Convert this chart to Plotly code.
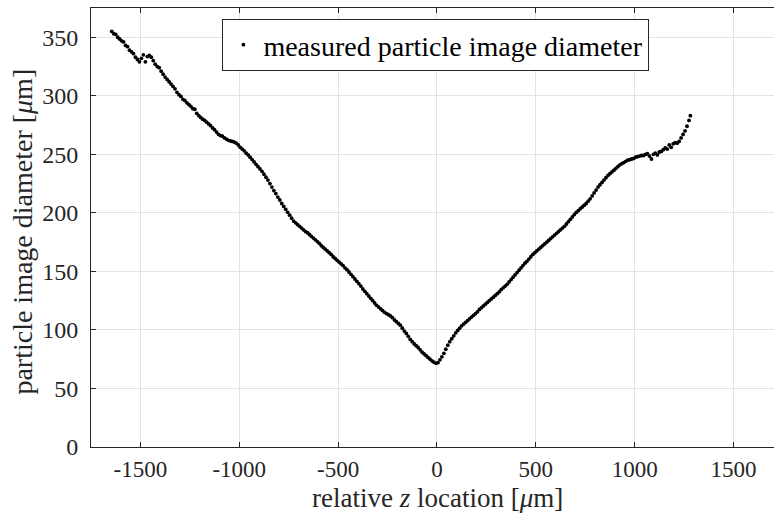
import plotly.graph_objects as go

# relative z location [um]
z_um = [
    -1645, -1635, -1625, -1615, -1605, -1595, -1585, -1575, -1565, -1555,
    -1545, -1535, -1525, -1515, -1505, -1495, -1485, -1475, -1465, -1455,
    -1445, -1435, -1425, -1415, -1405, -1395, -1385, -1375, -1365, -1355,
    -1345, -1335, -1325, -1315, -1305, -1295, -1285, -1275, -1265, -1255,
    -1245, -1235, -1225, -1215, -1205, -1195, -1185, -1175, -1165, -1155,
    -1145, -1135, -1125, -1115, -1105, -1095, -1085, -1075, -1065, -1055,
    -1045, -1035, -1025, -1015, -1005, -995, -985, -975, -965, -955,
    -945, -935, -925, -915, -905, -895, -885, -875, -865, -855,
    -845, -835, -825, -815, -805, -795, -785, -775, -765, -755,
    -745, -735, -725, -715, -705, -695, -685, -675, -665, -655,
    -645, -635, -625, -615, -605, -595, -585, -575, -565, -555,
    -545, -535, -525, -515, -505, -495, -485, -475, -465, -455,
    -445, -435, -425, -415, -405, -395, -385, -375, -365, -355,
    -345, -335, -325, -315, -305, -295, -285, -275, -265, -255,
    -245, -235, -225, -215, -205, -195, -185, -175, -165, -155,
    -145, -135, -125, -115, -105, -95, -85, -75, -65, -55,
    -45, -35, -25, -15, -5, 5, 15, 25, 35, 45,
    55, 65, 75, 85, 95, 105, 115, 125, 135, 145,
    155, 165, 175, 185, 195, 205, 215, 225, 235, 245,
    255, 265, 275, 285, 295, 305, 315, 325, 335, 345,
    355, 365, 375, 385, 395, 405, 415, 425, 435, 445,
    455, 465, 475, 485, 495, 505, 515, 525, 535, 545,
    555, 565, 575, 585, 595, 605, 615, 625, 635, 645,
    655, 665, 675, 685, 695, 705, 715, 725, 735, 745,
    755, 765, 775, 785, 795, 805, 815, 825, 835, 845,
    855, 865, 875, 885, 895, 905, 915, 925, 935, 945,
    955, 965, 975, 985, 995, 1005, 1015, 1025, 1035, 1045,
    1055, 1065, 1075, 1085, 1095, 1105, 1115, 1125, 1135, 1145,
    1155, 1165, 1175, 1185, 1195, 1205, 1215, 1225, 1235, 1245,
    1255, 1265, 1275, 1282,
]

# measured particle image diameter [um]
diameter_um = [
    355, 353, 352.5, 350, 348.5, 347, 346, 343, 342, 339,
    337.5, 336, 333, 331, 329, 332, 335, 329, 333.5, 334.5,
    333, 330, 327, 325, 324, 321, 318.5, 316, 314, 312,
    310, 308, 306, 303, 301, 299.5, 297, 296, 294, 292.5,
    291, 289, 288.5, 285, 283, 281.5, 280, 279, 277.5, 276,
    274.5, 272.5, 271, 269, 267, 266, 265.5, 264, 263, 262,
    261.5, 261, 260.5, 259.5, 258, 256, 254.5, 253, 251, 249.5,
    247.5, 245.5, 243.5, 241.5, 239.5, 237.5, 235.5, 233, 230.5, 228,
    225, 222, 219, 216.5, 213.5, 211, 208, 205.5, 203, 200.5,
    198, 195.5, 193, 191.5, 190, 188.5, 187, 185.5, 184, 183,
    181.5, 180, 178.5, 177, 175.5, 174, 172, 170.5, 169, 167.5,
    166, 164.5, 162.5, 161, 159.5, 158, 156.5, 155, 153, 151.5,
    149.5, 147.5, 145.5, 143.5, 141.5, 139.5, 137.5, 135, 133, 131,
    129, 127, 125, 123, 121, 119.5, 118, 116.5, 115, 114,
    113, 112, 110.5, 108.5, 107, 105.5, 104, 101.5, 99, 97,
    94.5, 92, 90, 88, 86.5, 85, 83, 81, 79.5, 78,
    76.5, 75, 73.5, 72.5, 71.5, 72, 74.5, 77, 80, 83.5,
    87, 90, 92.5, 95, 97.5, 99.5, 101.5, 103.5, 105, 106.5,
    108, 109.5, 111, 112.5, 114, 115.5, 117.5, 119, 120.5, 122,
    123.5, 125, 126.5, 128, 129.5, 131, 132.5, 134.5, 136, 137.5,
    139, 141, 143, 145, 147, 149, 151, 153, 155, 157,
    158.5, 160.5, 162.5, 164.5, 166, 167.5, 169, 170.5, 172, 173.5,
    175, 176.5, 178, 179.5, 181, 182.5, 184, 185.5, 187, 188.5,
    190.5, 192.5, 194.5, 196.5, 198.5, 200.5, 202, 203.5, 205, 206.5,
    208, 210, 212, 214.5, 217, 219.5, 222, 224, 226, 228,
    230, 232, 233.5, 235, 236.5, 238, 239.5, 241, 242, 243,
    244, 245, 245.5, 246, 246.5, 247.5, 248, 248.5, 249, 249,
    250, 250.5, 248.5, 246, 250, 251, 249.5, 252, 252.5, 254,
    255.5, 254.5, 258, 256, 259, 260, 259.5, 261, 264, 267,
    270, 274, 279, 283,
]

x_ticks = [-1500, -1000, -500, 0, 500, 1000, 1500]
y_ticks = [0, 50, 100, 150, 200, 250, 300, 350]

FONT = "Liberation Serif"
INK = "#262626"
GRID = "#e3e3e3"

fig = go.Figure()
fig.add_trace(go.Scatter(
    x=z_um, y=diameter_um, mode="markers",
    marker=dict(color="black", size=3.8, line=dict(width=0)),
    name="measured particle image diameter",
))

fig.update_layout(
    width=774, height=517,
    margin=dict(l=91, r=0, t=8, b=70),
    paper_bgcolor="white", plot_bgcolor="white",
    font=dict(family=FONT, color=INK),
    showlegend=True,
    legend=dict(
        x=0.505, y=0.975, xanchor="center", yanchor="top",
        bgcolor="white", bordercolor=INK, borderwidth=1,
        font=dict(family=FONT, size=28, color="black"),
        itemsizing="trace", itemwidth=30,
    ),
    xaxis=dict(
        range=[-1750, 1705], tickvals=x_ticks, ticktext=[str(v) for v in x_ticks],
        showgrid=True, gridcolor=GRID, gridwidth=1, zeroline=False,
        showline=True, linecolor=INK, linewidth=1, mirror="ticks",
        ticks="inside", ticklen=5, tickcolor=INK,
        tickfont=dict(family=FONT, size=23, color=INK),
        ticklabelstandoff=1,
    ),
    yaxis=dict(
        range=[0, 375], tickvals=y_ticks, ticktext=[str(v) for v in y_ticks],
        showgrid=True, gridcolor=GRID, gridwidth=1, zeroline=False,
        showline=True, linecolor=INK, linewidth=1, mirror=False,
        ticks="inside", ticklen=5, tickcolor=INK,
        tickfont=dict(family=FONT, size=24, color=INK),
        ticklabelstandoff=7,
    ),
    annotations=[
        dict(text="relative <i>z</i> location [<i>μ</i>m]", xref="paper", yref="paper",
             x=0.5066, y=-0.116, xanchor="center", yanchor="middle", showarrow=False,
             font=dict(family=FONT, size=27, color=INK)),
        dict(text="particle image diameter [<i>μ</i>m]", xref="paper", yref="paper",
             x=-0.1, y=0.49, xanchor="center", yanchor="middle", showarrow=False,
             textangle=-90, font=dict(family=FONT, size=28, color=INK)),
    ],
)

fig.write_html("out.html")
